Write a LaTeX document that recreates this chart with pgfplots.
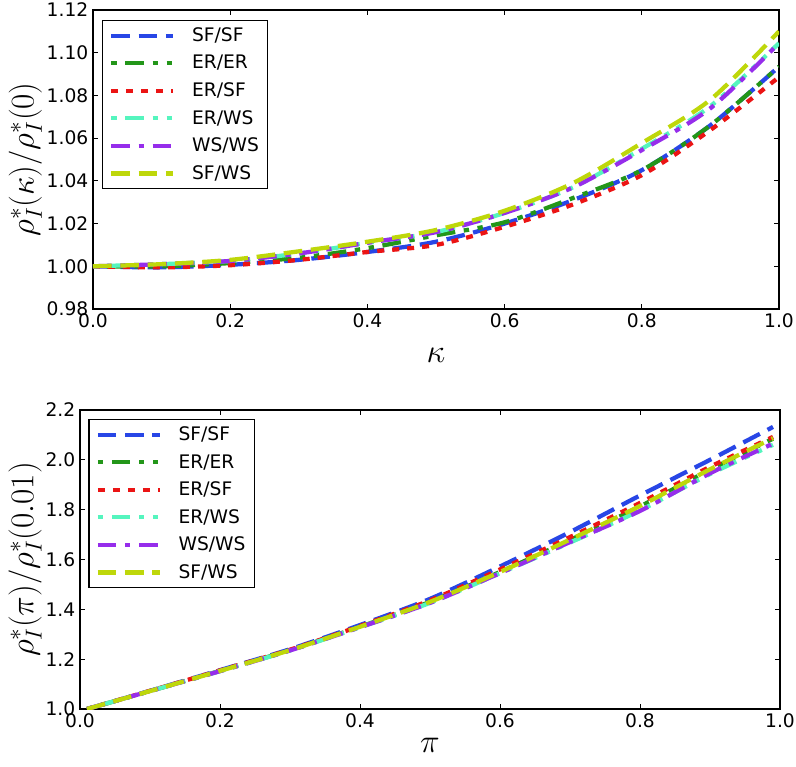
\documentclass[border=0pt]{standalone}
\usepackage{fontspec}
\setmainfont{DejaVu Sans}
\usepackage{pgfplots}
\pgfplotsset{compat=1.18}
\usepackage{pgfplotstable}

\definecolor{cSFSF}{RGB}{40,70,230}
\definecolor{cERER}{RGB}{35,150,25}
\definecolor{cERSF}{RGB}{235,20,20}
\definecolor{cERWS}{RGB}{85,245,190}
\definecolor{cWSWS}{RGB}{150,45,235}
\definecolor{cSFWS}{RGB}{190,215,10}

% top panel: kappa
\pgfplotstableread{
x      SFSF    ERER    ERSF    ERWS    WSWS    SFWS
0.0    1.0000  1.0000  1.0000  1.0000  1.0000  1.0000
0.1    0.9995  1.0000  0.9995  1.0010  1.0010  1.0010
0.2    1.0007  1.0015  1.0005  1.0025  1.0025  1.0030
0.3    1.0030  1.0040  1.0030  1.0060  1.0060  1.0070
0.4    1.0067  1.0085  1.0067  1.0110  1.0110  1.0115
0.5    1.0115  1.0145  1.0100  1.0160  1.0160  1.0170
0.6    1.0200  1.0206  1.0185  1.0250  1.0250  1.0260
0.7    1.0310  1.0320  1.0290  1.0370  1.0370  1.0390
0.8    1.0450  1.0450  1.0427  1.0550  1.0544  1.0577
0.9    1.0660  1.0660  1.0638  1.0750  1.0740  1.0780
1.0    1.0935  1.0935  1.0886  1.1045  1.1045  1.1100
}\kappatable

% bottom panel: pi
\pgfplotstableread{
x      SFSF    ERER    ERSF    ERWS    WSWS    SFWS
0.01   1.000   1.000   1.000   1.000   1.000   1.000
0.1    1.073   1.072   1.073   1.072   1.072   1.072
0.2    1.156   1.153   1.155   1.152   1.152   1.153
0.3    1.240   1.236   1.238   1.235   1.235   1.236
0.4    1.337   1.330   1.333   1.328   1.328   1.330
0.5    1.442   1.430   1.436   1.426   1.426   1.430
0.6    1.572   1.550   1.560   1.545   1.545   1.550
0.7    1.710   1.678   1.690   1.668   1.670   1.680
0.8    1.857   1.813   1.827   1.797   1.795   1.815
0.9    2.000   1.960   1.972   1.943   1.946   1.962
0.99   2.132   2.085   2.092   2.060   2.065   2.087
}\pitable

\pgfplotsset{
  myaxis/.style={
    scale only axis,
    anchor=north west,
    xmin=0, xmax=1,
    axis line style={line width=0.9pt, black},
    tick align=inside,
    major tick length=4pt,
    tick style={line width=0.6pt, black},
    xtick={0,0.2,0.4,0.6,0.8,1.0},
    /pgf/number format/assume math mode=true,
    tick label style={font=\fontsize{14}{16}\selectfont},
    x tick label style={/pgf/number format/.cd, fixed, fixed zerofill, precision=1},
    label style={font=\fontsize{26}{30}\selectfont},
    legend cell align=left,
    legend style={
      anchor=north west,
      draw=black, line width=0.9pt,
      font=\fontsize{14}{16}\selectfont,
      inner xsep=5pt, inner ysep=4pt,
      row sep=5.8pt,
      nodes={inner sep=1.5pt},
      /tikz/every odd column/.append style={column sep=11pt},
    },
    legend image code/.code={\draw[##1] (0pt,0pt) -- (46.5pt,0pt);},
    every axis plot/.append style={line width=3.2pt, smooth, tension=0.5, no markers},
  },
  sSFSF/.style={cSFSF, dash pattern=on 14pt off 6.5pt},
  sERER/.style={cERER, dash pattern=on 4pt off 6.5pt on 14pt off 6.5pt on 4pt off 6.5pt},
  sERSF/.style={cERSF, dash pattern=on 5.25pt off 6pt},
  sERWS/.style={cERWS, dash pattern=on 4pt off 6.5pt on 14pt off 6.5pt on 4pt off 6.5pt},
  sWSWS/.style={cWSWS, dash pattern=on 14pt off 6.5pt on 4pt off 6.5pt},
  sSFWS/.style={cSFWS, dash pattern=on 14pt off 6.5pt},
}

\begin{document}
\begin{tikzpicture}
\path[use as bounding box] (0pt,7.5pt) rectangle (597pt,-567.75pt);
\begin{axis}[myaxis,
  at={(69.75pt,0pt)},
  width=514.5pt, height=224.25pt,
  ymin=0.98, ymax=1.12,
  ytick={0.98,1.00,1.02,1.04,1.06,1.08,1.10,1.12},
  y tick label style={/pgf/number format/.cd, fixed, fixed zerofill, precision=2},
  xlabel={$\kappa$},
  ylabel={$\rho_I^*(\kappa)/\rho_I^*(0)$},
  xlabel style={at={(axis description cs:0.5,-0.155)}, anchor=center},
  ylabel style={at={(axis description cs:-0.0985,0.5)}, anchor=center},
  legend style={at={(axis description cs:0.013,0.967)}},
]
\addplot[sSFSF] table[x=x,y=SFSF] {\kappatable};
\addlegendentry{SF/SF}
\addplot[sERER] table[x=x,y=ERER] {\kappatable};
\addlegendentry{ER/ER}
\addplot[sERSF] table[x=x,y=ERSF] {\kappatable};
\addlegendentry{ER/SF}
\addplot[sERWS] table[x=x,y=ERWS] {\kappatable};
\addlegendentry{ER/WS}
\addplot[sWSWS] table[x=x,y=WSWS] {\kappatable};
\addlegendentry{WS/WS}
\addplot[sSFWS] table[x=x,y=SFWS] {\kappatable};
\addlegendentry{SF/WS}
\end{axis}

\begin{axis}[myaxis,
  at={(60pt,-300pt)},
  width=525pt, height=224.25pt,
  ymin=1.0, ymax=2.2,
  ytick={1.0,1.2,1.4,1.6,1.8,2.0,2.2},
  y tick label style={/pgf/number format/.cd, fixed, fixed zerofill, precision=1},
  xlabel={$\pi$},
  ylabel={$\rho_I^*(\pi)/\rho_I^*(0.01)$},
  xlabel style={at={(axis description cs:0.5,-0.12)}, anchor=center},
  ylabel style={at={(axis description cs:-0.0785,0.5)}, anchor=center},
  legend style={at={(axis description cs:0.012,0.97)}},
]
\addplot[sSFSF] table[x=x,y=SFSF] {\pitable};
\addlegendentry{SF/SF}
\addplot[sERER] table[x=x,y=ERER] {\pitable};
\addlegendentry{ER/ER}
\addplot[sERSF] table[x=x,y=ERSF] {\pitable};
\addlegendentry{ER/SF}
\addplot[sERWS] table[x=x,y=ERWS] {\pitable};
\addlegendentry{ER/WS}
\addplot[sWSWS] table[x=x,y=WSWS] {\pitable};
\addlegendentry{WS/WS}
\addplot[sSFWS] table[x=x,y=SFWS] {\pitable};
\addlegendentry{SF/WS}
\end{axis}
\end{tikzpicture}
\end{document}
